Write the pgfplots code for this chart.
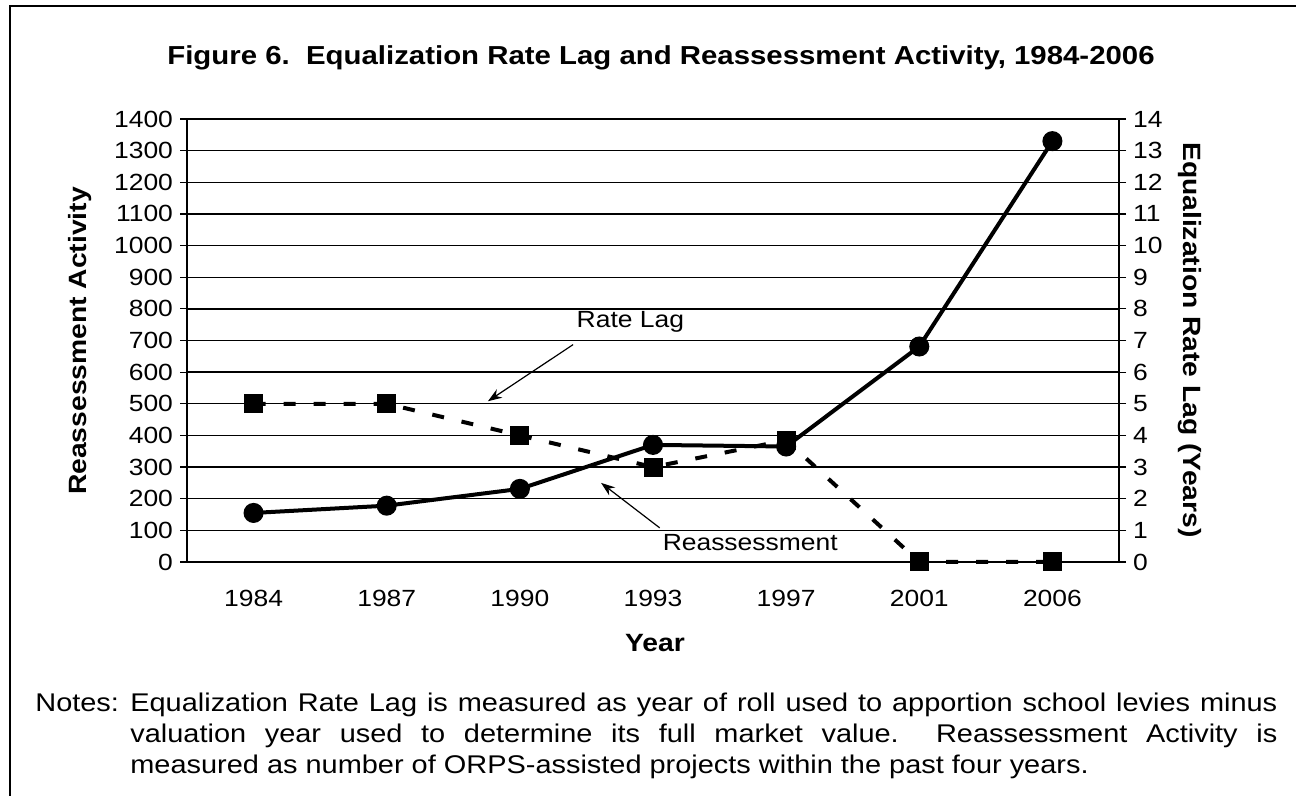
\documentclass[border=0pt]{standalone}
\usepackage{fontspec}
\setmainfont{Liberation Sans}[FakeStretch=1.13]
\usepackage{pgfplots}
\pgfplotsset{compat=1.18}
\usetikzlibrary{arrows.meta}
\begin{document}
\begin{tikzpicture}
\useasboundingbox (0,0) rectangle (648pt,398pt);
\draw[line width=0.8pt] (5pt,0pt) -- (5pt,395pt) -- (648pt,395pt);
\node[font=\fontsize{13}{15}\selectfont\bfseries] at (330.5pt,369pt) {Figure 6.\ \ Equalization Rate Lag and Reassessment Activity, 1984-2006};
\node[font=\fontsize{12.5}{15}\selectfont\bfseries, rotate=90] at (40pt,227.5pt) {Reassessment Activity};
\node[font=\fontsize{12.5}{15}\selectfont\bfseries, rotate=-90] at (595pt,228pt) {Equalization Rate Lag (Years)};
\node[font=\fontsize{12.5}{15}\selectfont\bfseries] at (327.5pt,76.5pt) {Year};
\node[anchor=north west, inner sep=0pt, font=\fontsize{12.8}{15.3}\selectfont] at (17.5pt,51.5pt) {\parbox[t]{621pt}{\noindent\hangindent=47.5pt \hangafter=1 \makebox[47.5pt][l]{Notes:}Equalization Rate Lag is measured as year of roll used to apportion school levies minus\linebreak valuation year used to determine its full market value.\ \ Reassessment Activity is\linebreak measured as number of ORPS-assisted projects within the past four years.}};
\begin{axis}[
  at={(93.5pt,117pt)}, anchor=south west, scale only axis,
  width=466pt, height=221.5pt,
  xmin=-0.5, xmax=6.5, ymin=0, ymax=1400,
  xtick={0,...,6}, xticklabels={1984,1987,1990,1993,1997,2001,2006},
  ytick={0,100,...,1400},
  axis y line*=left, axis x line*=bottom,
  ymajorgrids, grid style={black, line width=0.7pt},
  tick align=outside, major tick length=3.5pt,
  x tick style={draw=none},
  y tick style={black, line width=0.6pt},
  axis line style={black, line width=0.6pt},
  ticklabel style={font=\fontsize{11.7}{14}\selectfont},
  xticklabel style={yshift=-7pt},
  /pgf/number format/assume math mode=true,
  /pgf/number format/set thousands separator={},
  clip=false,
]
\addplot[black, line width=2pt, mark=*, mark size=4pt] coordinates {(0,155)(1,178)(2,231)(3,370)(4,365)(5,681)(6,1330)};
\node[font=\fontsize{11.7}{14}\selectfont] at (axis cs:2.83,760) {Rate Lag};
\draw[-{Stealth[length=7pt,width=5pt]}, line width=0.6pt] (axis cs:2.40,687) -- (axis cs:1.76,508);
\node[font=\fontsize{11.7}{14}\selectfont] at (axis cs:3.73,60) {Reassessment};
\draw[-{Stealth[length=7pt,width=5pt]}, line width=0.6pt] (axis cs:3.05,108) -- (axis cs:2.61,250);
\end{axis}
\begin{axis}[
  at={(93.5pt,117pt)}, anchor=south west, scale only axis,
  width=466pt, height=221.5pt,
  xmin=-0.5, xmax=6.5, ymin=0, ymax=14,
  ytick={0,...,14},
  axis y line*=right, axis x line=none,
  tick align=outside, major tick length=3.5pt,
  y tick style={black, line width=0.6pt},
  axis line style={black, line width=0.6pt},
  ticklabel style={font=\fontsize{11.7}{14}\selectfont},
  /pgf/number format/assume math mode=true,
  clip=false,
]
\addplot[black, line width=2pt, dash pattern=on 6pt off 9pt, mark=square*, mark size=3.75pt, mark options={solid}] coordinates {(0,5)(1,5)(2,4)(3,3)(4,3.85)(5,0)(6,0)};
\end{axis}
\end{tikzpicture}
\end{document}
